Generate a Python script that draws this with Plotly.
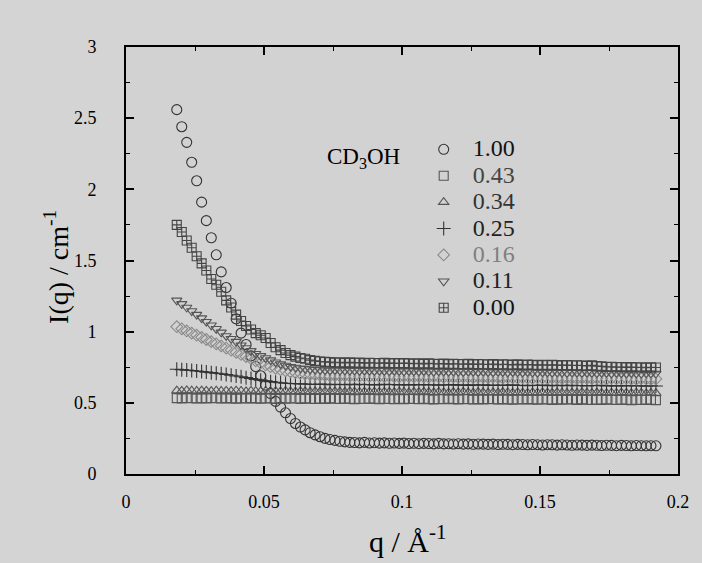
import plotly.graph_objects as go

q = [0.0184, 0.0202, 0.0220, 0.0238, 0.0256, 0.0274, 0.0291, 0.0309, 0.0327, 0.0345,
     0.0363, 0.0381, 0.0399, 0.0417, 0.0435, 0.0453, 0.0470, 0.0488, 0.0506, 0.0524,
     0.0542, 0.0560, 0.0578, 0.0596, 0.0614, 0.0632, 0.0649, 0.0667, 0.0685, 0.0703,
     0.0721, 0.0739, 0.0757, 0.0775, 0.0793, 0.0811, 0.0828, 0.0846, 0.0864, 0.0882,
     0.0900, 0.0918, 0.0936, 0.0954, 0.0972, 0.0990, 0.1007, 0.1025, 0.1043, 0.1061,
     0.1079, 0.1097, 0.1115, 0.1133, 0.1151, 0.1169, 0.1186, 0.1204, 0.1222, 0.1240,
     0.1258, 0.1276, 0.1294, 0.1312, 0.1330, 0.1348, 0.1365, 0.1383, 0.1401, 0.1419,
     0.1437, 0.1455, 0.1473, 0.1491, 0.1509, 0.1527, 0.1544, 0.1562, 0.1580, 0.1598,
     0.1616, 0.1634, 0.1652, 0.1670, 0.1688, 0.1706, 0.1723, 0.1741, 0.1759, 0.1777,
     0.1795, 0.1813, 0.1831, 0.1849, 0.1867, 0.1885, 0.1902, 0.1920]

I_100 = [2.56, 2.44, 2.33, 2.19, 2.06, 1.91, 1.78, 1.66, 1.54, 1.42,
         1.31, 1.20, 1.09, 0.99, 0.91, 0.83, 0.755, 0.69, 0.625, 0.565,
         0.51, 0.47, 0.43, 0.39, 0.355, 0.33, 0.31, 0.29, 0.275, 0.262,
         0.25, 0.242, 0.236, 0.230, 0.226, 0.222,
         0.221, 0.219, 0.222, 0.218, 0.220, 0.217, 0.219, 0.216, 0.218, 0.215,
         0.217, 0.214, 0.216, 0.213, 0.215, 0.214, 0.212, 0.215, 0.212, 0.213,
         0.211, 0.213, 0.210, 0.212, 0.209, 0.211, 0.210, 0.208, 0.210, 0.207,
         0.209, 0.208, 0.206, 0.208, 0.207, 0.205, 0.207, 0.206, 0.204, 0.206,
         0.205, 0.203, 0.205, 0.204, 0.202, 0.204, 0.203, 0.201, 0.203, 0.202,
         0.200, 0.202, 0.201, 0.199, 0.201, 0.200, 0.198, 0.200, 0.199, 0.198,
         0.199, 0.198]

I_043 = [0.533, 0.531, 0.534, 0.532, 0.530, 0.533, 0.531, 0.534, 0.532, 0.530,
         0.533, 0.531, 0.529, 0.532, 0.530, 0.533, 0.531, 0.529, 0.532, 0.530,
         0.528, 0.531, 0.529, 0.532, 0.530, 0.528, 0.531, 0.529, 0.527, 0.530,
         0.528, 0.531, 0.529, 0.527, 0.530, 0.528, 0.526, 0.529, 0.527, 0.530,
         0.528, 0.526, 0.529, 0.527, 0.525, 0.528, 0.526, 0.529, 0.527, 0.525,
         0.528, 0.526, 0.524, 0.527, 0.525, 0.528, 0.526, 0.524, 0.527, 0.525,
         0.523, 0.526, 0.524, 0.527, 0.525, 0.523, 0.526, 0.524, 0.522, 0.525,
         0.523, 0.526, 0.524, 0.522, 0.525, 0.523, 0.521, 0.524, 0.522, 0.525,
         0.523, 0.521, 0.524, 0.522, 0.520, 0.523, 0.521, 0.524, 0.522, 0.520,
         0.523, 0.521, 0.519, 0.522, 0.520, 0.523, 0.521, 0.519]

I_034 = [0.586, 0.584, 0.587, 0.585, 0.583, 0.586, 0.584, 0.582, 0.585, 0.583,
         0.584, 0.582, 0.585, 0.583, 0.581, 0.584, 0.582, 0.580, 0.583, 0.581,
         0.582, 0.580, 0.583, 0.581, 0.579, 0.582, 0.580, 0.578, 0.581, 0.579,
         0.580, 0.578, 0.581, 0.579, 0.577, 0.580, 0.578, 0.576, 0.579, 0.577,
         0.578, 0.576, 0.579, 0.577, 0.575, 0.578, 0.576, 0.574, 0.577, 0.575,
         0.577, 0.575, 0.573, 0.576, 0.574, 0.572, 0.575, 0.573, 0.576, 0.574,
         0.572, 0.575, 0.573, 0.571, 0.574, 0.572, 0.575, 0.573, 0.571, 0.574,
         0.572, 0.570, 0.573, 0.571, 0.574, 0.572, 0.570, 0.573, 0.571, 0.569,
         0.572, 0.570, 0.573, 0.571, 0.569, 0.572, 0.570, 0.568, 0.571, 0.569,
         0.572, 0.570, 0.568, 0.571, 0.569, 0.567, 0.570, 0.568]

I_025 = [0.736, 0.733, 0.730, 0.727, 0.724, 0.720, 0.716, 0.712, 0.708, 0.704,
         0.699, 0.694, 0.689, 0.683, 0.677, 0.671, 0.665, 0.659, 0.654, 0.649,
         0.645, 0.641, 0.638, 0.636, 0.634, 0.633, 0.632,
         0.631, 0.629, 0.632, 0.630, 0.628, 0.631, 0.629, 0.627, 0.630, 0.628,
         0.630, 0.627, 0.629, 0.626, 0.628, 0.630, 0.627, 0.629, 0.626, 0.628,
         0.625, 0.628, 0.626, 0.629, 0.625, 0.627, 0.624, 0.627, 0.625, 0.628,
         0.624, 0.626, 0.623, 0.626, 0.624, 0.627, 0.623, 0.625, 0.622, 0.625,
         0.623, 0.626, 0.622, 0.624, 0.621, 0.624, 0.622, 0.625, 0.621, 0.623,
         0.620, 0.623, 0.621, 0.624, 0.620, 0.622, 0.619, 0.622, 0.620, 0.623,
         0.619, 0.621, 0.618, 0.621, 0.619, 0.622, 0.618, 0.620, 0.617, 0.620, 0.618]

I_016 = [1.035, 1.02, 1.005, 0.99, 0.975, 0.96, 0.945, 0.93, 0.915, 0.90,
         0.885, 0.87, 0.855, 0.84, 0.825, 0.81, 0.795, 0.78, 0.766, 0.754,
         0.743, 0.733, 0.725, 0.718, 0.712, 0.707, 0.703, 0.700, 0.697, 0.695,
         0.693, 0.690, 0.692, 0.689, 0.691, 0.688, 0.690, 0.687, 0.689, 0.686,
         0.688, 0.686, 0.684, 0.687, 0.685, 0.683, 0.686, 0.684, 0.682, 0.685,
         0.683, 0.681, 0.684, 0.682, 0.680, 0.683, 0.681, 0.679, 0.682, 0.680,
         0.678, 0.681, 0.679, 0.677, 0.680, 0.678, 0.676, 0.679, 0.677, 0.675,
         0.678, 0.676, 0.674, 0.677, 0.675, 0.673, 0.676, 0.674, 0.672, 0.675,
         0.673, 0.671, 0.674, 0.672, 0.670, 0.673, 0.671, 0.669, 0.672, 0.670,
         0.668, 0.671, 0.669, 0.667, 0.670, 0.668, 0.666, 0.668]

I_011 = [1.22, 1.195, 1.17, 1.145, 1.12, 1.095, 1.07, 1.045, 1.02, 0.995,
         0.97, 0.95, 0.93, 0.905, 0.885, 0.865, 0.845, 0.83, 0.815, 0.80,
         0.785, 0.772, 0.762, 0.754, 0.748, 0.743, 0.739, 0.736, 0.733, 0.731,
         0.730, 0.728, 0.731, 0.727, 0.729, 0.726, 0.729, 0.725, 0.728, 0.726,
         0.724, 0.727, 0.725, 0.723, 0.726, 0.724, 0.722, 0.725, 0.723, 0.721,
         0.724, 0.722, 0.720, 0.723, 0.721, 0.719, 0.722, 0.720, 0.718, 0.721,
         0.719, 0.717, 0.720, 0.718, 0.716, 0.719, 0.717, 0.715, 0.718, 0.716,
         0.714, 0.717, 0.715, 0.713, 0.716, 0.714, 0.712, 0.715, 0.713, 0.711,
         0.714, 0.712, 0.710, 0.713, 0.711, 0.709, 0.712, 0.710, 0.708, 0.711,
         0.709, 0.707, 0.710, 0.708, 0.706, 0.709, 0.707, 0.706]

I_000 = [1.75, 1.70, 1.64, 1.59, 1.53, 1.48, 1.43, 1.37, 1.33, 1.28,
         1.22, 1.17, 1.12, 1.075, 1.04, 1.015, 0.99, 0.975, 0.955, 0.92,
         0.89, 0.87, 0.85, 0.835, 0.825, 0.815, 0.81, 0.80, 0.795, 0.79,
         0.788,
         0.786, 0.782, 0.785, 0.781, 0.784, 0.780, 0.783, 0.779, 0.782, 0.780,
         0.778, 0.781, 0.777, 0.780, 0.776, 0.779, 0.777, 0.775, 0.778, 0.774,
         0.777, 0.775, 0.773, 0.776, 0.772, 0.775, 0.773, 0.771, 0.774, 0.770,
         0.773, 0.771, 0.769, 0.772, 0.768, 0.771, 0.769, 0.767, 0.770, 0.766,
         0.769, 0.767, 0.765, 0.768, 0.764, 0.767, 0.765, 0.763, 0.766, 0.762,
         0.764, 0.762, 0.760, 0.763, 0.758, 0.756, 0.752, 0.754, 0.750, 0.752,
         0.749, 0.751, 0.748, 0.750, 0.747, 0.749, 0.748]

labels = ["1.00", "0.43", "0.34", "0.25", "0.16", "0.11", "0.00"]
series = [I_100, I_043, I_034, I_025, I_016, I_011, I_000]
symbols = ["circle-open", "square-open", "triangle-up-open", "cross-thin-open",
           "diamond-open", "triangle-down-open", "square-cross-open"]
colors = ["#333333", "#555555", "#555555", "#333333", "#8a8a8a", "#555555", "#444444"]
text_colors = ["#111111", "#444444", "#333333", "#222222", "#808080", "#222222", "#111111"]
sizes = [10, 9, 9, 10, 9, 9, 9]

x_ticks = [0, 0.05, 0.1, 0.15, 0.2]
y_ticks = [0, 0.5, 1, 1.5, 2, 2.5, 3]
x_minor = [0.025, 0.075, 0.125, 0.175]
y_minor = [0.25, 0.75, 1.25, 1.75, 2.25, 2.75]

FONT = "Liberation Serif"
BG = "#d4d4d4"

fig = go.Figure()
for lab, ys, sym, col, tcol, sz in zip(labels, series, symbols, colors, text_colors, sizes):
    fig.add_trace(go.Scatter(
        x=q, y=ys, mode="markers",
        name=f'<span style="font-size:24px;color:{tcol}">{lab}</span>',
        marker=dict(symbol=sym, size=sz, color=col, line=dict(width=1.1, color=col)),
    ))

axis_common = dict(
    showline=True, linecolor="black", linewidth=2, mirror="ticks",
    ticks="inside", ticklen=8, tickwidth=2, tickcolor="black",
    showgrid=False, zeroline=False,
    tickfont=dict(family=FONT, size=18, color="black"),
)

fig.update_layout(
    width=702, height=563,
    paper_bgcolor=BG, plot_bgcolor="#d2d2d2",
    margin=dict(l=126, r=24, t=47, b=89, autoexpand=False),
    font=dict(family=FONT, color="black"),
    xaxis=dict(range=[0, 0.2], tickvals=x_ticks, ticktext=["0", "0.05", "0.1", "0.15", "0.2"],
               ticklabelstandoff=10,
               minor=dict(tickvals=x_minor, ticks="inside", ticklen=4, tickwidth=1,
                          tickcolor="black", showgrid=False),
               **axis_common),
    yaxis=dict(range=[0, 3], tickvals=y_ticks, ticktext=["0", "0.5", "1", "1.5", "2", "2.5", "3"],
               ticklabelstandoff=24,
               minor=dict(tickvals=y_minor, ticks="inside", ticklen=4, tickwidth=1,
                          tickcolor="black", showgrid=False),
               **axis_common),
    showlegend=True,
    legend=dict(x=0.523, y=0.803, xanchor="left", yanchor="top",
                bgcolor="rgba(0,0,0,0)", borderwidth=0, itemwidth=48,
                font=dict(family=FONT, size=18, color="black"),
                tracegroupgap=0),
    annotations=[
        dict(text="CD<sub>3</sub>OH", x=0.43, y=0.777, xref="paper", yref="paper",
             showarrow=False, font=dict(family=FONT, size=23, color="black")),
        dict(text="I(q) / cm<sup>-1</sup>", x=-0.125, y=0.485, xref="paper", yref="paper",
             xanchor="center", yanchor="middle", textangle=-90, showarrow=False,
             font=dict(family=FONT, size=28, color="black")),
        dict(text="q / Å<sup>-1</sup>", x=0.51, y=-0.152, xref="paper", yref="paper",
             xanchor="center", yanchor="middle", showarrow=False,
             font=dict(family=FONT, size=30, color="black")),
    ],
)

post = ("document.body.style.margin='0px';"
        "document.body.style.background='" + BG + "';"
        "document.documentElement.style.background='" + BG + "';")
fig.write_html("out.html", post_script=post, config={"displayModeBar": False})
